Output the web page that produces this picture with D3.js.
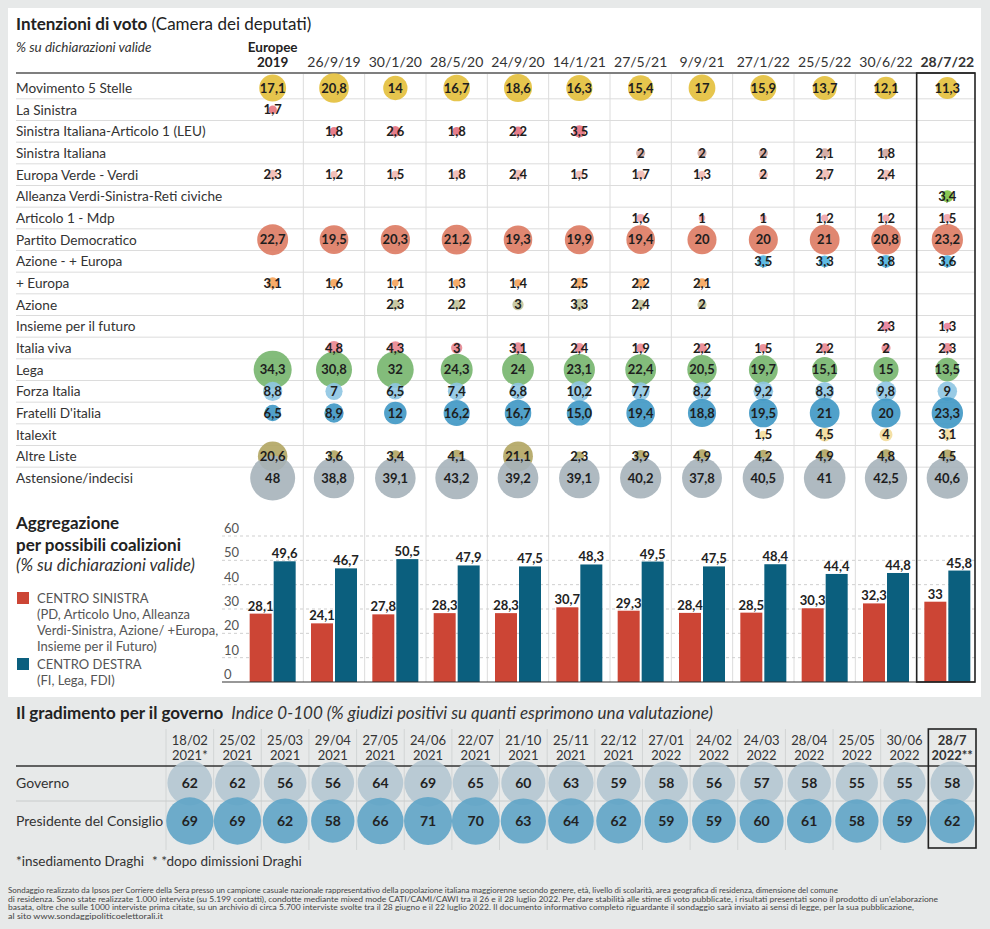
<!DOCTYPE html>
<html><head><meta charset="utf-8">
<script src="https://cdn.jsdelivr.net/npm/d3@7"></script>
<style>
body{margin:0;background:#e7e9e9;}
svg{display:block;font-family:Lato,'Open Sans',sans-serif;}
</style>
</head><body>
<svg id="c" width="990" height="929"></svg>
<script>
// ---------------- DATA ----------------
const columns = ["Europee 2019","26/9/19","30/1/20","28/5/20","24/9/20","14/1/21","27/5/21","9/9/21","27/1/22","25/5/22","30/6/22","28/7/22"];
const parties = ["Movimento 5 Stelle","La Sinistra","Sinistra Italiana-Articolo 1 (LEU)","Sinistra Italiana","Europa Verde - Verdi","Alleanza Verdi-Sinistra-Reti civiche","Articolo 1 - Mdp","Partito Democratico","Azione - + Europa","+ Europa","Azione","Insieme per il futuro","Italia viva","Lega","Forza Italia","Fratelli D'italia","Italexit","Altre Liste","Astensione/indecisi"];
const partyColors = ["#e3bf3a","#e8747c","#e4707e","#d2a69f","#f1b9b1","#7dc142","#f0a2aa","#dd7a62","#4db2e0","#f5a35a","#c3c399","#e9809a","#e9858f","#76b56d","#8ec5e2","#3e97c4","#f3dd9b","#b1a562","#a6b2ba"];
const voteValues = [
  [17.1,20.8,14,16.7,18.6,16.3,15.4,17,15.9,13.7,12.1,11.3],
  [1.7,null,null,null,null,null,null,null,null,null,null,null],
  [null,1.8,2.6,1.8,2.2,3.5,null,null,null,null,null,null],
  [null,null,null,null,null,null,2,2,2,2.1,1.8,null],
  [2.3,1.2,1.5,1.8,2.4,1.5,1.7,1.3,2,2.7,2.4,null],
  [null,null,null,null,null,null,null,null,null,null,null,3.4],
  [null,null,null,null,null,null,1.6,1,1,1.2,1.2,1.5],
  [22.7,19.5,20.3,21.2,19.3,19.9,19.4,20,20,21,20.8,23.2],
  [null,null,null,null,null,null,null,null,3.5,3.3,3.8,3.6],
  [3.1,1.6,1.1,1.3,1.4,2.5,2.2,2.1,null,null,null,null],
  [null,null,2.3,2.2,3,3.3,2.4,2,null,null,null,null],
  [null,null,null,null,null,null,null,null,null,null,2.3,1.3],
  [null,4.8,4.3,3,3.1,2.4,1.9,2.2,1.5,2.2,2,2.3],
  [34.3,30.8,32,24.3,24,23.1,22.4,20.5,19.7,15.1,15,13.5],
  [8.8,7,6.5,7.4,6.8,10.2,7.7,8.2,9.2,8.3,9.8,9],
  [6.5,8.9,12,16.2,16.7,"15.0",19.4,18.8,19.5,21,20,23.3],
  [null,null,null,null,null,null,null,null,1.5,4.5,4,3.1],
  [20.6,3.6,3.4,4.1,21.1,2.3,3.9,4.9,4.2,4.9,4.8,4.5],
  [48,38.8,39.1,43.2,39.2,39.1,40.2,37.8,40.5,41,42.5,40.6]
];
const centroSinistra = [28.1,24.1,27.8,28.3,28.3,30.7,29.3,28.4,28.5,30.3,32.3,33];
const centroDestra   = [49.6,46.7,50.5,47.9,47.5,48.3,49.5,47.5,48.4,44.4,44.8,45.8];
const barTicks = [0,10,20,30,40,50,60];

const govDay  = ["18/02","25/02","25/03","29/04","27/05","24/06","22/07","21/10","25/11","22/12","27/01","24/02","24/03","28/04","25/05","30/06","28/7"];
const govYear = ["2021*","2021","2021","2021","2021","2021","2021","2021","2021","2021","2022","2022","2022","2022","2022","2022","2022**"];
const governo    = [62,62,56,56,64,69,65,60,63,59,58,56,57,58,55,55,58];
const presidente = [69,69,62,58,66,71,70,63,64,62,59,59,60,61,58,59,62];
const govRows = ["Governo","Presidente del Consiglio"];
const govColors = ["#b4c7d2","#5fa4c6"];

const footerLines = [
 "Sondaggio realizzato da Ipsos per Corriere della Sera presso un campione casuale nazionale rappresentativo della popolazione italiana maggiorenne secondo genere, età, livello di scolarità, area geografica di residenza, dimensione del comune",
 "di residenza. Sono state realizzate 1.000 interviste (su 5.199 contatti), condotte mediante mixed mode CATI/CAMI/CAWI  tra il 26 e il 28 luglio 2022. Per dare stabilità alle stime di voto pubblicate, i risultati presentati sono il prodotto di un'elaborazione",
 "basata, oltre che sulle 1000 interviste prima citate, su un archivio di circa 5.700 interviste svolte tra il 28 giugno e il 22 luglio 2022. Il documento informativo completo riguardante il sondaggio sarà inviato ai sensi di legge, per la sua pubblicazione,",
 "al sito www.sondaggipoliticoelettorali.it"
];
const footerWidths = [830, 930, 906, 155];

// ---------------- DRAW ----------------
const svg = d3.select("#c");
const fmt = v => String(v).replace(".", ",");

svg.append("rect").attr("x",0).attr("y",0).attr("width",990).attr("height",929).attr("fill","#e7e9e9");
svg.append("rect").attr("x",8).attr("y",8).attr("width",973).attr("height",689).attr("fill","#fff");

const x = d3.scaleBand().domain(columns).range([242, 978]);
const bw = x.bandwidth();
const rowY = d3.scalePoint().domain(parties).range([88, 478]);
const rStep = rowY.step();
const r = d3.scaleSqrt().domain([0,48]).range([0,22.5]);

// titles
const t1 = svg.append("text").attr("x",16).attr("y",30).attr("fill","#222").attr("font-size",17);
t1.append("tspan").attr("font-weight",700).text("Intenzioni di voto");
t1.append("tspan").text(" (Camera dei deputati)");
svg.append("text").attr("x",16).attr("y",52).attr("font-size",13.5).attr("font-style","italic").attr("fill","#333").text("% su dichiarazioni valide");

// column headers
columns.forEach((c,i)=>{
  const cx = x(c)+bw/2;
  if(i===0){
    svg.append("text").attr("x",cx).attr("y",52).attr("text-anchor","middle").attr("font-weight",700).attr("font-size",13.5).attr("fill","#222").text("Europee");
    svg.append("text").attr("x",cx).attr("y",67).attr("text-anchor","middle").attr("font-weight",700).attr("font-size",13.5).attr("fill","#222").text("2019");
  } else {
    svg.append("text").attr("x",cx).attr("y",67).attr("text-anchor","middle").attr("font-size",14)
      .attr("font-weight", i===columns.length-1?700:400).attr("fill","#333").text(c);
  }
});

// grid lines
const yBar = d3.scaleLinear().domain([0,60]).range([682,536]);
parties.forEach((p,i)=>{
  if(i<parties.length-1)
  svg.append("line").attr("x1",16).attr("x2",975).attr("y1",rowY(p)+rStep/2).attr("y2",rowY(p)+rStep/2).attr("stroke","#dcdcdc").attr("stroke-width",1);
});
columns.slice(1).forEach(c=>{
  svg.append("line").attr("x1",x(c)).attr("x2",x(c)).attr("y1",74).attr("y2",682).attr("stroke","#dcdcdc");
});
barTicks.slice(1).forEach(t=>{
  svg.append("line").attr("x1",222).attr("x2",975).attr("y1",yBar(t)).attr("y2",yBar(t)).attr("stroke","#cfcfcf").attr("stroke-dasharray","3,3");
});
svg.append("line").attr("x1",16).attr("x2",975).attr("y1",73).attr("y2",73).attr("stroke","#555").attr("stroke-width",1.5);

// row labels
parties.forEach(p=>{
  svg.append("text").attr("x",16).attr("y",rowY(p)+5).attr("font-size",13.6).attr("fill","#333").text(p);
});

// bubbles
voteValues.forEach((row,i)=>{
  row.forEach((v,j)=>{
    if(v===null) return;
    svg.append("circle").attr("cx",x(columns[j])+bw/2).attr("cy",rowY(parties[i])).attr("r",r(+v))
      .attr("fill",partyColors[i]).attr("fill-opacity",0.9);
  });
});
voteValues.forEach((row,i)=>{
  row.forEach((v,j)=>{
    if(v===null) return;
    svg.append("text").attr("x",x(columns[j])+bw/2).attr("y",rowY(parties[i])+4.5).attr("text-anchor","middle")
      .attr("font-size",13).attr("font-weight",700).attr("fill","#1e1e1e").text(fmt(v));
  });
});

// bar chart section
svg.append("text").attr("x",16).attr("y",529).attr("font-size",17).attr("font-weight",700).attr("fill","#222").text("Aggregazione");
svg.append("text").attr("x",16).attr("y",551).attr("font-size",17).attr("font-weight",700).attr("fill","#222").text("per possibili coalizioni");
svg.append("text").attr("x",16).attr("y",571).attr("font-size",17).attr("font-style","italic").attr("fill","#333").text("(% su dichiarazioni valide)");

const legend = [
  {c:"#cc4535", y:598, lines:["CENTRO SINISTRA","(PD, Articolo Uno, Alleanza","Verdi-Sinistra, Azione/ +Europa,","Insieme per il Futuro)"]},
  {c:"#0b5f7e", y:664, lines:["CENTRO DESTRA","(FI, Lega, FDI)"]}
];
legend.forEach(l=>{
  svg.append("rect").attr("x",17).attr("y",l.y-6).attr("width",12).attr("height",12).attr("fill",l.c);
  l.lines.forEach((t,k)=>{
    svg.append("text").attr("x",37).attr("y",l.y+5+k*16).attr("font-size",13).attr("fill","#555").text(t);
  });
});

barTicks.forEach(t=>{
  svg.append("text").attr("x",224).attr("y",yBar(t)-3).attr("font-size",13).attr("fill","#555").text(t);
});

const barW = 22;
columns.forEach((c,i)=>{
  const cx = x(c)+bw/2;
  const vs = [centroSinistra[i], centroDestra[i]];
  const cols = ["#cc4535","#0b5f7e"];
  vs.forEach((v,k)=>{
    const bx = k===0 ? cx-1-barW : cx+1;
    svg.append("rect").attr("x",bx).attr("y",yBar(v)).attr("width",barW).attr("height",yBar(0)-yBar(v)).attr("fill",cols[k]);
    svg.append("text").attr("x",bx+barW/2).attr("y",yBar(v)-3).attr("text-anchor","middle").attr("font-size",13).attr("font-weight",700).attr("fill","#222").text(fmt(v));
  });
});
svg.append("line").attr("x1",222).attr("x2",975).attr("y1",682).attr("y2",682).attr("stroke","#333").attr("stroke-width",1.2);

const lastX = x(columns[columns.length-1]);
svg.append("rect").attr("x",lastX).attr("y",73).attr("width",975-lastX).attr("height",609).attr("fill","none").attr("stroke","#222").attr("stroke-width",1.6);

// ---------------- GOVERNMENT ----------------
const g1 = svg.append("text").attr("x",16).attr("y",719).attr("font-size",17).attr("fill","#222");
g1.append("tspan").attr("font-weight",700).text("Il gradimento per il governo");
g1.append("tspan").attr("font-style","italic").attr("fill","#333").attr("dx",8).text("Indice 0-100 (% giudizi positivi su quanti esprimono una valutazione)");

const gx = d3.scaleBand().domain(govDay.map((d,i)=>i)).range([166, 976]);
const gbw = gx.bandwidth();
const gy = d3.scalePoint().domain(govRows).range([783, 821]);
const gr = d3.scaleSqrt().domain([0,71]).range([0,24]);

govDay.forEach((d,i)=>{
  svg.append("line").attr("x1",gx(i)).attr("x2",gx(i)).attr("y1",729).attr("y2",850).attr("stroke","#d2d5d5");
});
svg.append("line").attr("x1",16).attr("x2",976).attr("y1",766).attr("y2",766).attr("stroke","#333").attr("stroke-width",1.3);
svg.append("line").attr("x1",16).attr("x2",976).attr("y1",801).attr("y2",801).attr("stroke","#c9cccc");

govDay.forEach((d,i)=>{
  const cx = gx(i)+gbw/2;
  const last = i===govDay.length-1;
  svg.append("text").attr("x",cx).attr("y",745).attr("text-anchor","middle").attr("font-size",13).attr("font-weight",last?700:400).attr("fill","#333").text(d);
  svg.append("text").attr("x",cx).attr("y",760).attr("text-anchor","middle").attr("font-size",13).attr("font-weight",last?700:400).attr("fill","#333").text(govYear[i]);
});
govRows.forEach(rw=>{
  svg.append("text").attr("x",16).attr("y",gy(rw)+5).attr("font-size",14).attr("fill","#333").text(rw);
});
[governo, presidente].forEach((arr,k)=>{
  arr.forEach((v,i)=>{
    svg.append("circle").attr("cx",gx(i)+gbw/2).attr("cy",gy(govRows[k])).attr("r",gr(v)).attr("fill",govColors[k]).attr("fill-opacity",0.9);
  });
});
[governo, presidente].forEach((arr,k)=>{
  arr.forEach((v,i)=>{
    svg.append("text").attr("x",gx(i)+gbw/2).attr("y",gy(govRows[k])+5).attr("text-anchor","middle").attr("font-size",14).attr("font-weight",700).attr("fill","#222").text(v);
  });
});
const glast = gx(govDay.length-1);
svg.append("rect").attr("x",glast).attr("y",729).attr("width",976-glast).attr("height",119).attr("fill","none").attr("stroke","#222").attr("stroke-width",1.6);

svg.append("text").attr("x",16).attr("y",866).attr("font-size",13.5).attr("fill","#333").text("*insediamento Draghi");
svg.append("text").attr("x",152).attr("y",866).attr("font-size",13.5).attr("fill","#333").text("* *dopo dimissioni Draghi");

footerLines.forEach((t,i)=>{
  svg.append("text").attr("x",8).attr("y",893+i*8.6).attr("font-size",7.8).attr("fill","#444")
    .attr("textLength",footerWidths[i]).attr("lengthAdjust","spacingAndGlyphs").text(t);
});
</script>
</body></html>
